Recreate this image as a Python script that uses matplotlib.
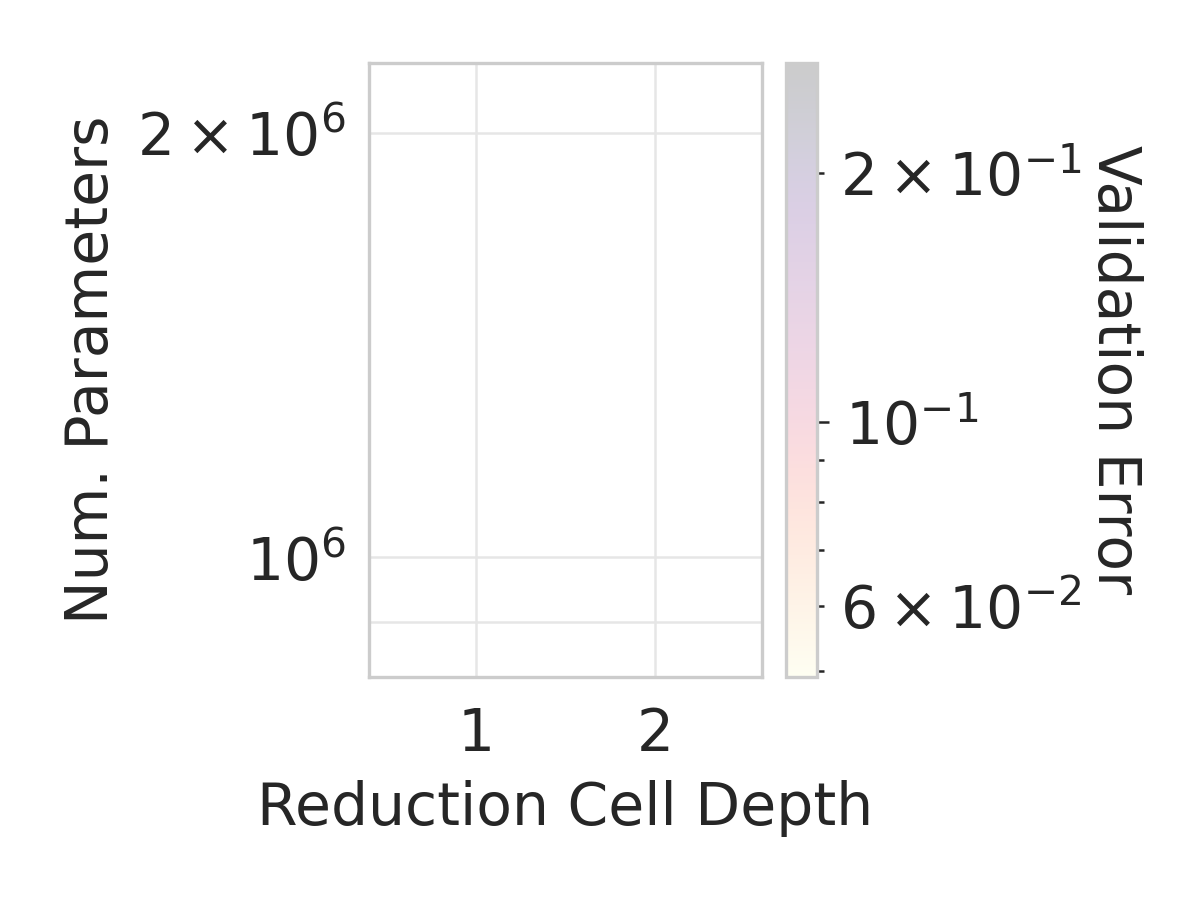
import matplotlib
matplotlib.use("Agg")
import matplotlib.pyplot as plt
import seaborn as sns
from matplotlib.colors import LogNorm

# jittered reduction cell depth (1 or 2, +-0.5), parameters, validation error
depth = [0.5, 0.9, 1.3, 1.6, 2.1, 2.5]
num_params = [8.61e5, 1.05e6, 1.3e6, 9.2e5, 1.7e6, 2.143e6]
val_error = [0.0492, 0.062, 0.09, 0.12, 0.18, 0.2716]

sns.set_theme(style="whitegrid")
plt.rcParams["font.family"] = ["DejaVu Sans"]

fig = plt.figure(figsize=(4, 3), dpi=300)
ax = fig.add_axes([369 / 1200, 223 / 900, 393 / 1200, 614 / 900])
cax = fig.add_axes([786 / 1200, 223 / 900, 31 / 1200, 614 / 900])

sc = ax.scatter(depth, num_params, c=val_error, cmap="magma_r",
                norm=LogNorm(), s=0, alpha=0.2)
ax.set_yscale("log")
ax.grid(which="both", color="#e6e6e6", linewidth=0.6)
for sp in ax.spines.values():
    sp.set_color("#cccccc")
    sp.set_linewidth(0.8)
ax.set_xticks([1, 2])
ax.tick_params(axis="x", which="both", length=0, pad=7)
ax.tick_params(axis="y", which="both", length=0, pad=5.5)
ax.tick_params(which="both", labelsize=14, colors="#262626")
ax.set_xlabel("Reduction Cell Depth", fontsize=14, color="#262626")
ax.set_ylabel("Num. Parameters", fontsize=14, color="#262626")

cb = fig.colorbar(sc, cax=cax)
cax.grid(False)
cb.outline.set_edgecolor("#cccccc")
cb.outline.set_linewidth(0.8)
cax.tick_params(which="major", length=2.8, width=0.6, labelsize=14, colors="#262626", pad=4)
cax.tick_params(which="minor", length=1.6, width=0.6, labelsize=14, colors="#262626", pad=4)
cb.set_label("Validation Error", rotation=270, fontsize=14, color="#262626", labelpad=14.5)

fig.savefig("out.png", dpi=300)
